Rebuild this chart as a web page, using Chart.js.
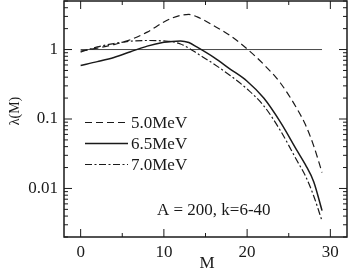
<!DOCTYPE html>
<html>
<head>
<meta charset="utf-8">
<script src="https://cdn.jsdelivr.net/npm/chart.js@4/dist/chart.umd.min.js"></script>
<style>
  html, body { margin: 0; padding: 0; background: #fff; }
  #wrap { width: 349px; height: 274px; }
</style>
</head>
<body>
<div id="wrap"><canvas id="chart" width="349" height="274"></canvas></div>
<script>
// ---- data ----
const mValues = [0, 2, 4, 6, 8, 10, 11, 12, 13, 14, 16, 18, 20, 22, 24, 26, 27, 28, 29];
const lambda50 = [0.95, 1.05, 1.18, 1.39, 1.78, 2.5, 2.85, 3.1, 3.2, 2.95, 2.2, 1.58, 1.02, 0.61, 0.33, 0.14, 0.083, 0.041, 0.017];
const lambda65 = [0.59, 0.67, 0.77, 0.93, 1.12, 1.27, 1.31, 1.33, 1.26, 1.08, 0.77, 0.52, 0.35, 0.2, 0.09, 0.035, 0.022, 0.0125, 0.0048];
const lambda70 = [0.92, 1.09, 1.22, 1.32, 1.35, 1.33, 1.30, 1.2, 1.05, 0.88, 0.62, 0.42, 0.27, 0.155, 0.068, 0.025, 0.0152, 0.0078, 0.0034];
const refLineM = [0, 29];
const refLineVal = [1, 1];

const seriesLabels = ['5.0MeV', '6.5MeV', '7.0MeV'];
const xTickLabels = [0, 10, 20, 30];
const xMinorTicks = [5, 15, 25];
const yTickLabels = [0.01, 0.1, 1];

const SERIF = '"Liberation Serif", "Times New Roman", serif';
const INK = '#1a1a1a';

const toPoints = (xs, ys) => xs.map((m, i) => ({ x: m, y: ys[i] }));

// frame, inward ticks, legend and labels
const decorations = {
    id: 'decorations',
    afterDatasetsDraw(chart) {
        const { ctx, chartArea: a, scales: { x, y } } = chart;
        ctx.save();
        ctx.strokeStyle = INK;
        ctx.lineWidth = 1.5;
        ctx.strokeRect(a.left, a.top, a.right - a.left, a.bottom - a.top);

        ctx.lineWidth = 1;
        ctx.beginPath();
        const xTick = (v, len) => {
            const px = x.getPixelForValue(v);
            ctx.moveTo(px, a.bottom); ctx.lineTo(px, a.bottom - len);
            ctx.moveTo(px, a.top); ctx.lineTo(px, a.top + len);
        };
        const yTick = (v, len) => {
            const py = y.getPixelForValue(v);
            ctx.moveTo(a.left, py); ctx.lineTo(a.left + len, py);
            ctx.moveTo(a.right, py); ctx.lineTo(a.right - len, py);
        };
        xTickLabels.forEach(v => xTick(v, 8));
        xMinorTicks.forEach(v => xTick(v, 4));
        for (let dec = 0.001; dec < 10; dec *= 10) {
            for (let k = 1; k <= 9; k++) {
                const v = dec * k;
                if (v < y.min || v > y.max) continue;
                yTick(v, k === 1 ? 8 : 4);
            }
        }
        ctx.stroke();

        // legend
        ctx.font = '17px ' + SERIF;
        ctx.fillStyle = INK;
        ctx.textBaseline = 'middle';
        ctx.textAlign = 'left';
        const items = chart.data.datasets.filter(d => d.label);
        items.forEach((d, i) => {
            const ly = 122.5 + i * 21;
            ctx.save();
            ctx.lineWidth = d.borderWidth;
            ctx.setLineDash(d.borderDash || []);
            ctx.beginPath();
            ctx.moveTo(85, ly);
            ctx.lineTo(128, ly);
            ctx.stroke();
            ctx.restore();
            ctx.fillText(d.label, 131, ly + 1);
        });

        // annotation
        ctx.fillText('A = 200, k=6-40', 157, 211);

        // axis titles
        ctx.textAlign = 'center';
        ctx.fillText('M', 207, 264);
        ctx.save();
        ctx.translate(14, 111);
        ctx.rotate(-Math.PI / 2);
        ctx.font = '14px ' + SERIF;
        ctx.fillText('λ(M)', 0, 1);
        ctx.restore();
        ctx.restore();
    }
};

new Chart(document.getElementById('chart'), {
    type: 'line',
    data: {
        datasets: [
            {
                label: seriesLabels[0],
                data: toPoints(mValues, lambda50),
                borderColor: INK,
                borderWidth: 1.2,
                borderDash: [7, 4],
                pointRadius: 0,
                cubicInterpolationMode: 'monotone'
            },
            {
                label: seriesLabels[1],
                data: toPoints(mValues, lambda65),
                borderColor: INK,
                borderWidth: 1.5,
                pointRadius: 0,
                cubicInterpolationMode: 'monotone'
            },
            {
                label: seriesLabels[2],
                data: toPoints(mValues, lambda70),
                borderColor: INK,
                borderWidth: 1.2,
                borderDash: [7, 2.5, 2, 2.5],
                pointRadius: 0,
                cubicInterpolationMode: 'monotone'
            },
            {
                label: '',
                data: toPoints(refLineM, refLineVal),
                borderColor: '#333',
                borderWidth: 0.9,
                pointRadius: 0
            }
        ]
    },
    options: {
        responsive: false,
        animation: false,
        devicePixelRatio: 1,
        layout: { padding: { top: 1, right: 2, left: 0, bottom: 0 } },
        plugins: {
            legend: { display: false },
            tooltip: { enabled: false }
        },
        scales: {
            x: {
                type: 'linear',
                min: -2,
                max: 32,
                grid: { display: false, drawTicks: false },
                border: { display: false },
                afterBuildTicks: s => { s.ticks = xTickLabels.map(v => ({ value: v })); },
                afterFit: s => { s.height = 37; s.paddingLeft = 0; s.paddingRight = 0; },
                ticks: {
                    color: INK,
                    padding: 5,
                    maxRotation: 0,
                    font: { family: SERIF, size: 17 }
                }
            },
            y: {
                type: 'logarithmic',
                min: 0.002,
                max: 5,
                grid: { display: false, drawTicks: false },
                border: { display: false },
                afterBuildTicks: s => { s.ticks = yTickLabels.map(v => ({ value: v })); },
                afterFit: s => { s.width = 64; s.paddingTop = 0; s.paddingBottom = 0; },
                ticks: {
                    color: INK,
                    padding: 6,
                    font: { family: SERIF, size: 17 },
                    callback: v => String(v)
                }
            }
        }
    },
    plugins: [decorations]
});
</script>
</body>
</html>
